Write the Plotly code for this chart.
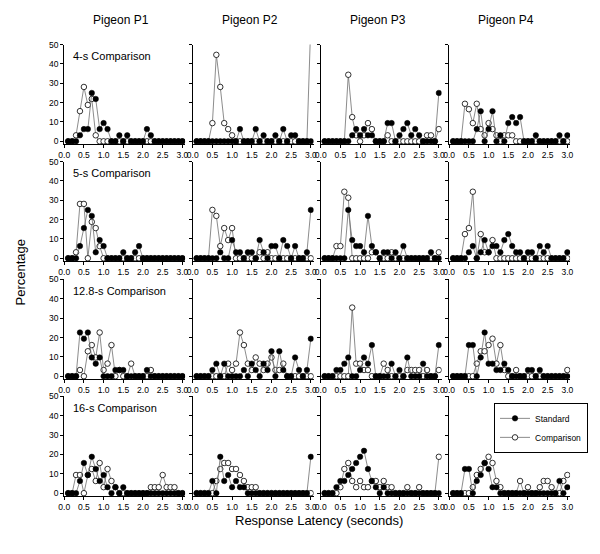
import plotly.graph_objects as go

latency = [0.1, 0.2, 0.3, 0.4, 0.5, 0.6, 0.7, 0.8, 0.9, 1.0,
           1.1, 1.2, 1.3, 1.4, 1.5, 1.6, 1.7, 1.8, 1.9, 2.0,
           2.1, 2.2, 2.3, 2.4, 2.5, 2.6, 2.7, 2.8, 2.9, 3.0]
pigeons = ["Pigeon P1", "Pigeon P2", "Pigeon P3", "Pigeon P4"]
conditions = ["4-s Comparison", "5-s Comparison", "12.8-s Comparison", "16-s Comparison"]
x_ticks = [0.0, 0.5, 1.0, 1.5, 2.0, 2.5, 3.0]
x_ticklabels = ["0.0", "0.5", "1.0", "1.5", "2.0", "2.5", "3.0"]
y_ticks = [0, 10, 20, 30, 40, 50]

# ---- 4-s comparison ----
std_4s_P1 = [0,0,0,3.1,6.3,6.3,25.0,21.9,6.3,9.4,6.3,0,0,3.1,0,3.1,0,0,0,0,6.3,3.1,0,0,0,0,0,0,0,0]
cmp_4s_P1 = [0,0,3.1,15.6,28.1,18.8,21.9,3.1,0,0,0,0,0,0,0,0,0,0,0,0,0,0,0,0,0,0,0,0,0,0]
std_4s_P2 = [0,0,0,0,0,0,0,0,0,0,0,6.3,0,0,0,6.3,0,3.1,0,0,3.1,0,6.3,0,3.1,3.1,0,0,0,0]
cmp_4s_P2 = [0,0,0,0,9.4,44.7,28.1,9.4,6.3,3.1,0,0,0,0,0,0,0,0,0,0,0,0,0,0,0,0,0,0,0,62.0]
std_4s_P3 = [0,0,0,0,0,0,0,3.1,6.3,3.1,6.3,3.1,3.1,0,0,0,9.4,9.4,0,3.1,6.3,9.4,3.1,6.3,3.1,0,0,0,0,25.0]
cmp_4s_P3 = [0,0,0,0,0,0,34.4,12.5,3.1,0,3.1,9.4,6.3,0,0,0,3.1,0,0,0,0,0,0,0,0,0,3.1,3.1,0,6.3]
std_4s_P4 = [0,0,0,0,0,0,6.3,15.6,0,6.3,15.6,0,3.1,0,9.4,12.5,9.4,12.5,0,0,0,3.1,0,0,0,0,0,3.1,0,3.1]
cmp_4s_P4 = [0,0,0,19.4,16.6,9.4,19.4,6.3,3.1,9.4,6.3,3.1,0,3.1,3.1,3.1,0,0,0,0,0,0,0,0,0,0,0,0,0,0]

# ---- 5-s comparison ----
std_5s_P1 = [0,0,0,6.3,15.6,25.0,21.9,3.1,9.4,6.3,0,0,0,0,3.1,0,0,3.1,6.3,0,0,0,0,0,0,0,0,0,0,0]
cmp_5s_P1 = [0,0,3.1,28.1,28.1,0,18.8,15.6,6.3,0,0,0,0,0,0,0,0,0,0,0,0,0,0,0,0,0,0,0,0,0]
std_5s_P2 = [0,0,0,0,0,0,3.1,0,0,9.4,3.1,3.1,0,3.1,3.1,0,9.4,3.1,0,6.3,6.3,0,9.4,6.3,0,6.3,0,0,3.1,25.0]
cmp_5s_P2 = [0,0,0,0,25.0,21.9,6.3,15.6,9.4,15.6,0,0,0,0,0,0,3.1,0,3.1,0,0,0,0,0,0,0,0,0,0,0]
std_5s_P3 = [0,0,0,0,0,0,25.0,9.4,6.3,6.3,3.1,21.9,6.3,3.1,0,3.1,3.1,0,3.1,0,6.3,0,0,0,0,0,0,3.1,0,0]
cmp_5s_P3 = [0,0,0,6.3,6.3,34.4,31.3,0,0,0,0,0,3.1,3.1,0,0,0,3.1,0,0,0,0,0,0,0,0,0,0,0,3.1]
std_5s_P4 = [0,0,0,0,3.1,6.3,0,3.1,9.4,3.1,6.3,6.3,3.1,9.4,12.5,6.3,3.1,3.1,0,3.1,3.1,0,6.3,3.1,6.3,0,0,0,0,3.1]
cmp_5s_P4 = [0,0,0,12.5,15.6,34.4,0,12.5,3.1,3.1,9.4,0,0,0,0,0,0,0,0,0,0,0,0,0,0,0,0,0,0,0]

# ---- 12.8-s comparison ----
std_12s_P1 = [0,0,0,22.6,19.4,22.6,9.7,6.5,9.7,0,0,0,3.2,3.2,3.2,0,0,0,0,0,3.2,0,0,0,0,0,0,0,0,0]
cmp_12s_P1 = [0,0,0,3.2,0,12.9,16.1,9.7,22.6,3.2,6.5,16.1,0,3.2,0,0,6.5,0,0,0,0,3.2,0,0,0,0,0,0,0,0]
std_12s_P2 = [0,0,0,0,3.2,6.5,0,6.5,0,0,0,0,3.2,0,6.5,3.2,0,6.5,3.2,12.9,0,12.9,3.2,0,0,9.7,3.2,0,3.2,19.4]
cmp_12s_P2 = [0,0,0,0,0,0,0,0,6.5,3.2,6.5,22.6,16.1,6.5,3.2,9.7,6.5,3.2,6.5,9.7,3.2,3.2,6.5,0,0,0,0,0,0,0]
std_12s_P3 = [0,0,0,3.2,3.2,6.5,9.7,0,0,3.2,9.7,6.5,16.1,0,0,0,0,6.5,0,3.2,0,9.7,0,0,0,6.5,0,0,0,16.1]
cmp_12s_P3 = [0,0,0,0,0,0,0,35.5,6.5,6.5,3.2,3.2,0,0,0,6.5,3.2,0,0,0,0,3.2,3.2,3.2,3.2,0,3.2,0,0,3.2]
std_12s_P4 = [0,0,0,0,16.1,16.1,0,9.7,22.6,6.5,6.5,3.2,3.2,6.5,3.2,0,0,0,0,3.2,3.2,0,3.2,0,0,0,0,0,0,0]
cmp_12s_P4 = [0,0,0,0,0,0,6.5,12.9,12.9,16.1,19.4,6.5,16.1,3.2,0,0,3.2,0,0,0,0,0,0,0,0,0,0,0,0,3.2]

# ---- 16-s comparison ----
std_16s_P1 = [0,0,0,6.3,15.6,9.4,18.8,12.5,6.3,9.4,3.1,0,3.1,0,3.1,0,0,0,0,0,0,0,0,0,0,0,0,0,0,0]
cmp_16s_P1 = [0,0,9.4,9.4,0,9.4,12.5,6.3,15.6,3.1,12.5,6.3,3.1,0,0,0,0,0,0,0,0,3.1,3.1,3.1,9.4,3.1,3.1,3.1,0,0]
std_16s_P2 = [0,0,0,0,6.3,0,18.8,6.3,9.4,3.1,6.3,3.1,3.1,0,0,0,0,0,0,0,0,0,0,0,0,0,0,0,0,18.8]
cmp_16s_P2 = [0,0,0,0,0,6.3,12.5,15.6,15.6,12.5,12.5,9.4,6.3,3.1,3.1,3.1,0,0,0,0,0,0,0,0,0,0,0,0,0,0]
std_16s_P3 = [0,0,0,3.1,6.3,6.3,9.4,12.5,15.6,18.8,21.9,12.5,6.3,3.1,0,3.1,0,0,0,0,0,0,0,0,0,0,0,0,0,0]
cmp_16s_P3 = [0,0,0,0,3.1,12.5,15.6,6.3,3.1,6.3,3.1,3.1,6.3,6.3,3.1,6.3,3.1,3.1,0,0,0,3.1,0,0,3.1,0,0,0,0,18.8]
std_16s_P4 = [0,0,0,12.5,12.5,0,6.3,9.4,15.6,12.5,3.1,3.1,0,0,0,0,0,0,0,0,0,0,0,0,0,0,0,6.3,0,3.1]
cmp_16s_P4 = [0,0,0,0,0,3.1,9.4,12.5,15.6,18.8,15.6,6.3,3.1,0,0,0,0,6.3,0,3.1,0,0,3.1,6.3,6.3,3.1,0,0,6.3,9.4]

standard = [
    [std_4s_P1, std_4s_P2, std_4s_P3, std_4s_P4],
    [std_5s_P1, std_5s_P2, std_5s_P3, std_5s_P4],
    [std_12s_P1, std_12s_P2, std_12s_P3, std_12s_P4],
    [std_16s_P1, std_16s_P2, std_16s_P3, std_16s_P4],
]
comparison = [
    [cmp_4s_P1, cmp_4s_P2, cmp_4s_P3, cmp_4s_P4],
    [cmp_5s_P1, cmp_5s_P2, cmp_5s_P3, cmp_5s_P4],
    [cmp_12s_P1, cmp_12s_P2, cmp_12s_P3, cmp_12s_P4],
    [cmp_16s_P1, cmp_16s_P2, cmp_16s_P3, cmp_16s_P4],
]

# page has an 8px body margin; figure is sized to fit inside the window
OFF = 8
W, H = 600 - 2 * OFF, 554 - 2 * OFF
FONT = "Arial, Liberation Sans, Helvetica, sans-serif"
X_RANGE = [0, 3.07]
Y_RANGE = [-1.5, 50]
PX_PER_X = 40.0
PX_PER_Y = 1.96
col_x0 = [59 - OFF, 189.5 - OFF, 319.5 - OFF, 450 - OFF]
row_top = [40 - OFF, 158.5 - OFF, 278 - OFF, 396.5 - OFF]

fig = go.Figure()
layout = {}
for r in range(4):
    for c in range(4):
        k = r * 4 + c + 1
        xs = "" if k == 1 else str(k)
        x0 = col_x0[c]
        x1 = x0 + (X_RANGE[1] - X_RANGE[0]) * PX_PER_X
        yt = row_top[r]
        yb = yt + (Y_RANGE[1] - Y_RANGE[0]) * PX_PER_Y
        fig.add_trace(go.Scatter(
            x=latency, y=comparison[r][c], mode="lines+markers",
            xaxis="x" + xs, yaxis="y" + xs, name="Comparison",
            legendrank=2, showlegend=(k == 1),
            line=dict(color="#6e6e6e", width=0.8),
            marker=dict(symbol="circle", size=5.5, color="white",
                        line=dict(color="black", width=0.8)),
        ))
        fig.add_trace(go.Scatter(
            x=latency, y=standard[r][c], mode="lines+markers",
            xaxis="x" + xs, yaxis="y" + xs, name="Standard",
            legendrank=1, showlegend=(k == 1),
            line=dict(color="#6e6e6e", width=0.8),
            marker=dict(symbol="circle", size=5.5, color="black",
                        line=dict(color="black", width=0.5)),
        ))
        layout["xaxis" + xs] = dict(
            domain=[x0 / W, x1 / W], range=X_RANGE, anchor="y" + xs,
            tickvals=x_ticks, ticktext=x_ticklabels, ticks="outside",
            ticklen=3, tickwidth=1, tickcolor="black",
            showline=True, linecolor="black", linewidth=1,
            showgrid=False, zeroline=False,
            tickfont=dict(size=8.5, color="black", family=FONT),
        )
        layout["yaxis" + xs] = dict(
            domain=[1 - yb / H, 1 - yt / H], range=Y_RANGE, anchor="x" + xs,
            tickvals=y_ticks, ticks="outside", ticklen=3, tickwidth=1,
            tickcolor="black", showticklabels=(c == 0),
            showline=True, linecolor="black", linewidth=1,
            showgrid=False, zeroline=False,
            tickfont=dict(size=8.5, color="black", family=FONT),
        )

annotations = []
for c, name in enumerate(pigeons):
    annotations.append(dict(
        text=name, x=(col_x0[c] + 58) / W, y=1 - (15 - OFF) / H, xref="paper", yref="paper",
        showarrow=False, xanchor="center", yanchor="middle",
        font=dict(size=12, color="black", family=FONT)))
for r, cond in enumerate(conditions):
    annotations.append(dict(
        text=cond, x=(66 - OFF) / W, y=1 - (row_top[r] + 12) / H, xref="paper", yref="paper",
        showarrow=False, xanchor="left", yanchor="middle",
        font=dict(size=11, color="black", family=FONT)))
annotations.append(dict(
    text="Percentage", x=(15 - OFF) / W, y=1 - (270 - OFF) / H, xref="paper", yref="paper",
    showarrow=False, textangle=-90, xanchor="center", yanchor="middle",
    font=dict(size=13, color="black", family=FONT)))
annotations.append(dict(
    text="Response Latency (seconds)", x=(318 - OFF) / W, y=1 - (522 - OFF) / H,
    xref="paper", yref="paper",
    showarrow=False, xanchor="center", yanchor="middle",
    font=dict(size=13, color="black", family=FONT)))

fig.update_layout(
    width=W, height=H,
    margin=dict(l=0, r=0, t=0, b=0),
    paper_bgcolor="white", plot_bgcolor="white",
    font=dict(family=FONT, color="black"),
    annotations=annotations,
    legend=dict(x=(591 - OFF) / W, y=1 - (403 - OFF) / H, xanchor="right", yanchor="top",
                bordercolor="black", borderwidth=1, bgcolor="white",
                font=dict(size=8.5, family=FONT, color="black"),
                itemwidth=30, tracegroupgap=0, traceorder="normal"),
    **layout,
)

fig.write_html("out.html")
